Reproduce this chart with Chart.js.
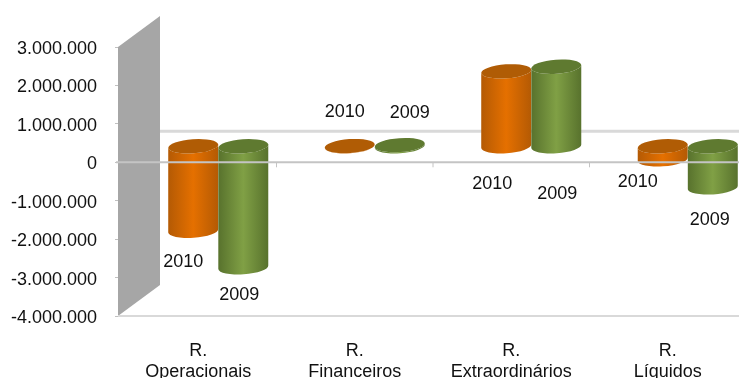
<!DOCTYPE html>
<html>
<head>
<meta charset="utf-8">
<style>
  html, body { margin: 0; padding: 0; background: #fff; overflow: hidden; }
  #wrap { width: 739px; height: 378px; overflow: hidden; }
</style>
<script src="https://cdn.jsdelivr.net/npm/chart.js@4"></script>
</head>
<body>
<div id="wrap"><canvas id="chart" width="748" height="378"></canvas></div>
<script>
const categories = [['R.', 'Operacionais'], ['R.', 'Financeiros'], ['R.', 'Extraordinários'], ['R.', 'Líquidos']];
const years = ['2010', '2009'];
const values2010 = [-2200000, 5000, 1950000, -340000];
const values2009 = [-3150000, 30000, 2070000, -1070000];
const yTicks = [3000000, 2000000, 1000000, 0, -1000000, -2000000, -3000000, -4000000];

// where each year label sits relative to the end of its bar
const labelOffsets = [
    [[10, 15], [15, -50], [6, 97], [-5, 7]],
    [[16, 12], [30, -48], [21, 111], [17, 17]]
];

const fmt = v => v.toString().replace(/\B(?=(\d{3})+(?!\d))/g, '.');

const depth = { wallX: 42, wallY: -31, barX: 20, barY: -16 };
const palette = [
    { edge: '#b45a04', mid: '#e57000', lid: '#b05c05' },
    { edge: '#58722d', mid: '#80a045', lid: '#5f7a30' }
];

function drawCylinder(ctx, el, colors, zeroY) {
    const cx = el.x + depth.barX;
    const rx = el.width / 2;
    const ry = 7;
    const tilt = -0.07;
    const y1 = Math.min(el.y, zeroY) + depth.barY;
    const y2 = Math.max(el.y, zeroY) + depth.barY;

    const grad = ctx.createLinearGradient(cx - rx, 0, cx + rx, 0);
    grad.addColorStop(0, colors.edge);
    grad.addColorStop(0.5, colors.mid);
    grad.addColorStop(1, colors.edge);

    ctx.beginPath();
    ctx.ellipse(cx, y1, rx, ry, tilt, Math.PI, 0, true);
    ctx.ellipse(cx, y2, rx, ry, tilt, 0, Math.PI, false);
    ctx.closePath();
    ctx.fillStyle = grad;
    ctx.fill();

    ctx.beginPath();
    ctx.ellipse(cx, y1, rx, ry, tilt, 0, Math.PI * 2);
    ctx.fillStyle = colors.lid;
    ctx.fill();
}

const cylinders3d = {
    id: 'cylinders3d',
    // nudge the value labels down a little from their ticks
    beforeDraw(chart) {
        chart.scales.y.getLabelItems(chart.chartArea).forEach(item => { item.textOffset += 2; });
    },
    beforeDatasetsDraw(chart) {
        const { ctx, chartArea: area, scales: { y } } = chart;
        const top = y.getPixelForValue(y.max);
        const bottom = y.getPixelForValue(y.min);
        const left = area.left - 2;
        const zero = y.getPixelForValue(0);

        ctx.save();
        // side wall
        ctx.beginPath();
        ctx.moveTo(left, top);
        ctx.lineTo(left + depth.wallX, top + depth.wallY);
        ctx.lineTo(left + depth.wallX, bottom + depth.wallY);
        ctx.lineTo(left, bottom);
        ctx.closePath();
        ctx.fillStyle = '#a6a6a6';
        ctx.fill();

        // back gridline and floor
        ctx.strokeStyle = '#d9d9d9';
        ctx.lineWidth = 3;
        ctx.beginPath();
        ctx.moveTo(left + depth.wallX, zero + depth.wallY);
        ctx.lineTo(chart.width, zero + depth.wallY);
        ctx.stroke();
        ctx.lineWidth = 2;
        ctx.beginPath();
        ctx.moveTo(left, bottom);
        ctx.lineTo(chart.width, bottom);
        ctx.stroke();
        ctx.restore();
    },
    // the stock rectangles are replaced by the cylinders below
    beforeDatasetDraw() {
        return false;
    },
    afterDatasetsDraw(chart) {
        const { ctx, scales: { x, y } } = chart;
        const zero = y.getPixelForValue(0);

        ctx.save();
        chart.data.datasets.forEach((ds, d) => {
            chart.getDatasetMeta(d).data.forEach(el => {
                drawCylinder(ctx, el, palette[d], zero);
            });
        });

        // zero line runs in front of the bars
        ctx.strokeStyle = '#c4c4c4';
        ctx.lineWidth = 2;
        ctx.beginPath();
        ctx.moveTo(chart.chartArea.left - 4, zero);
        ctx.lineTo(chart.width, zero);
        ctx.stroke();

        // category separators hanging under the zero line
        ctx.lineWidth = 1;
        const step = x.getPixelForValue(1) - x.getPixelForValue(0);
        for (let i = 0; i < categories.length; i++) {
            const tx = x.getPixelForValue(i) + step / 2;
            ctx.beginPath();
            ctx.moveTo(tx, zero);
            ctx.lineTo(tx, zero + 5);
            ctx.stroke();
        }

        // year labels
        ctx.fillStyle = '#111';
        ctx.font = '18px "Liberation Sans"';
        ctx.textAlign = 'center';
        ctx.textBaseline = 'middle';
        chart.data.datasets.forEach((ds, d) => {
            chart.getDatasetMeta(d).data.forEach((el, i) => {
                const [ox, oy] = labelOffsets[d][i];
                ctx.fillText(ds.label, el.x + ox, el.y + oy);
            });
        });
        ctx.restore();
    }
};

new Chart(document.getElementById('chart'), {
    type: 'bar',
    data: {
        labels: categories,
        datasets: [
            { label: years[0], data: values2010, backgroundColor: palette[0].mid },
            { label: years[1], data: values2009, backgroundColor: palette[1].mid }
        ]
    },
    plugins: [cylinders3d],
    options: {
        responsive: false,
        animation: false,
        categoryPercentage: 0.64,
        barPercentage: 1,
        layout: { padding: { top: 47, right: 2, bottom: 0, left: 0 } },
        plugins: { legend: { display: false }, tooltip: { enabled: false } },
        scales: {
            x: {
                grid: { display: false },
                border: { display: false },
                ticks: {
                    color: '#111',
                    font: { family: '"Liberation Sans"', size: 18, lineHeight: 1.15 },
                    maxRotation: 0,
                    autoSkip: false,
                    padding: 17
                },
                afterFit: s => { s.height = 62; s.paddingLeft = 0; s.paddingRight = 0; }
            },
            y: {
                min: -4000000,
                max: 3000000,
                afterBuildTicks: s => { s.ticks = yTicks.map(value => ({ value })); },
                grid: { drawOnChartArea: false, tickLength: 5, tickColor: '#c0c0c0' },
                border: { display: false },
                ticks: {
                    color: '#111',
                    font: { family: '"Liberation Sans"', size: 18 },
                    padding: 18,
                    callback: v => fmt(v)
                },
                afterFit: s => { s.width = 120; s.paddingTop = 0; s.paddingBottom = 0; }
            }
        }
    }
});
</script>
</body>
</html>
